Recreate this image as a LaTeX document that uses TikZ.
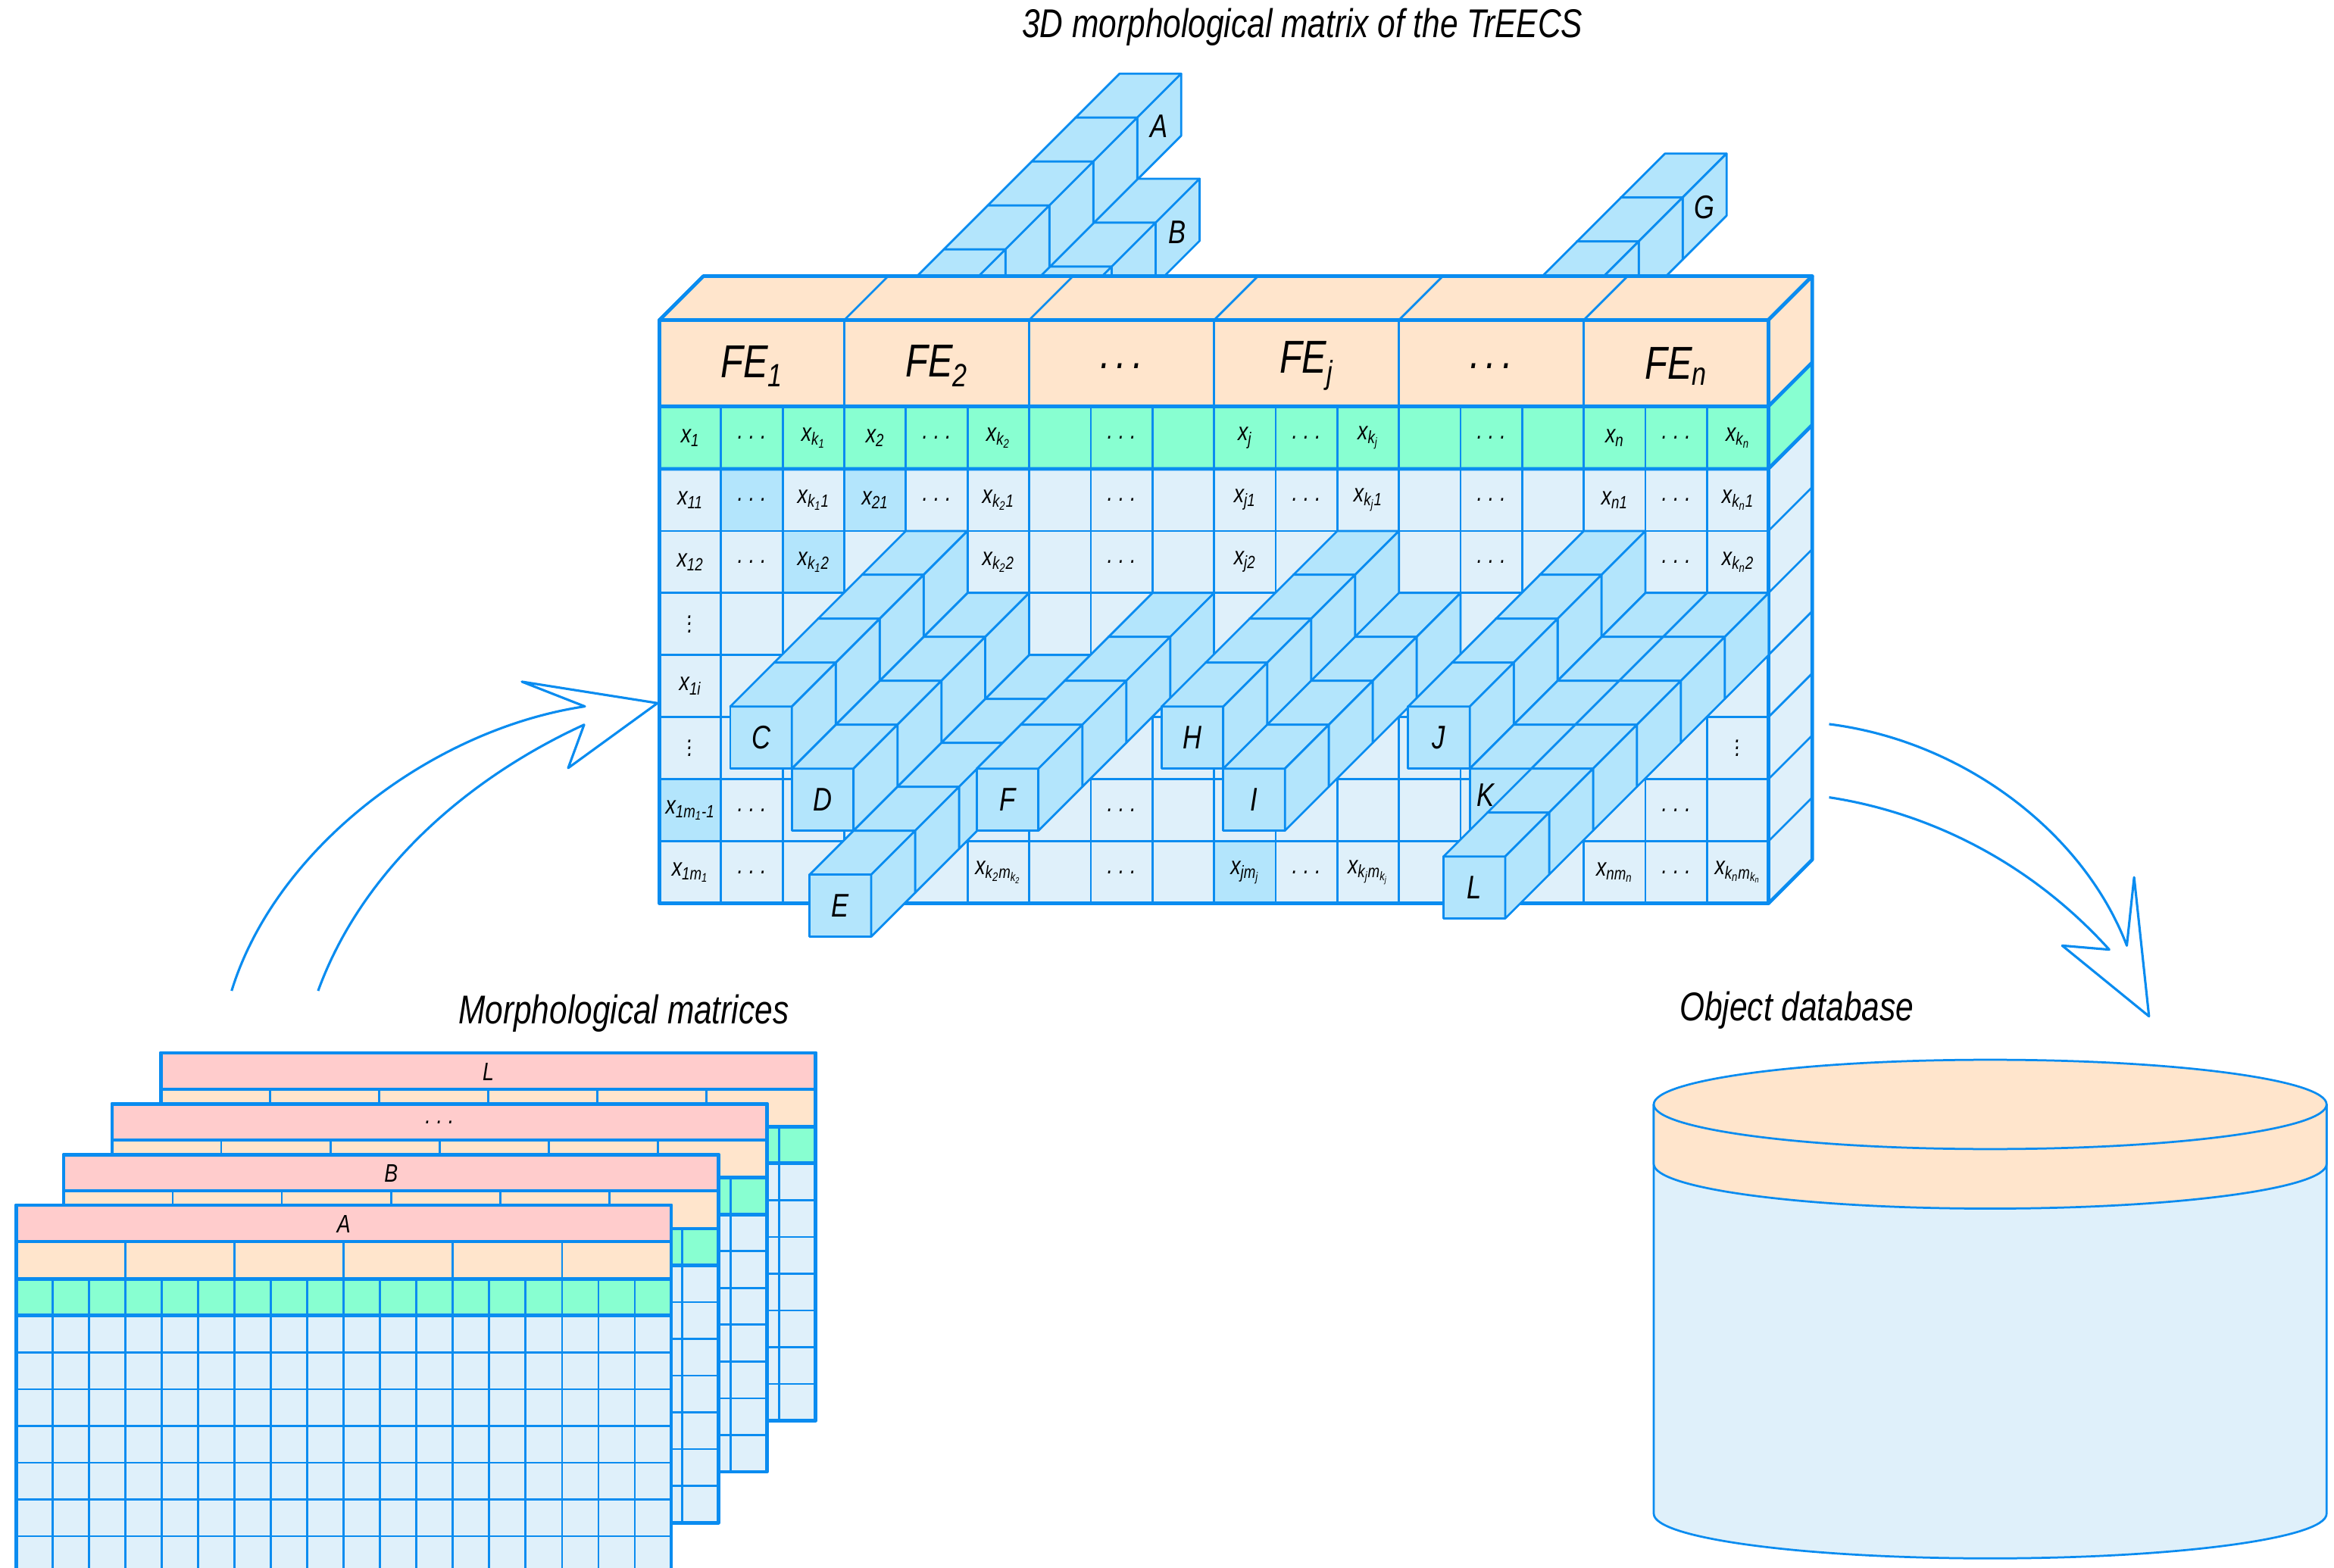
\documentclass[tikz,border=0pt]{standalone}
\usepackage{fontspec}
\setmainfont{Liberation Sans}[FakeStretch=0.8]
\definecolor{ln}{HTML}{0A8CF0}
\definecolor{peach}{HTML}{FFE5CC}
\definecolor{grn}{HTML}{88FFD1}
\definecolor{lb}{HTML}{DFF0FA}
\definecolor{mb}{HTML}{B3E5FC}
\definecolor{pinkc}{HTML}{FFCCCC}
\newcommand\xs[1]{\textit{x}\textsubscript{\itshape #1}}
\newcommand\dd{.\hspace{4pt}.\hspace{4pt}.}
\newcommand\vd{{\fontsize{17}{9}\selectfont\shortstack{.\\.\\.}}}
\newcommand\mycube[2]{%
  \filldraw[cb] (#1,#2) rectangle ++(41.4,41.7);
  \filldraw[cb] (#1,#2) -- ++(29.5,-29.5) -- ++(41.4,0) -- ++(-29.5,29.5) -- cycle;
  \filldraw[cb] ({#1+41.4},#2) -- ++(29.5,-29.5) -- ++(0,41.7) -- ++(-29.5,29.5) -- cycle;}
\begin{document}
\begin{tikzpicture}[x=1pt,y=-1pt,line join=round,
  cb/.style={fill=mb,draw=ln,line width=1.4},
  g/.style={draw=ln,line width=1.4},
  gb/.style={draw=ln,line width=2.4},
  ct/.style={font=\fontsize{17}{19}\selectfont\itshape,inner sep=0},
  lbl/.style={font=\fontsize{22}{24}\selectfont\itshape,inner sep=0},
  ttl/.style={font=\fontsize{27}{30}\selectfont\itshape,inner sep=0},
  arr/.style={draw=ln,line width=1.6}]
\useasboundingbox (0,0) rectangle (1568,1053);
% titles
\node[ttl] (title) at (875,18) {3D morphological matrix of the TrEECS};
\node[ttl] (tmm) at (419,681) {Morphological matrices};
\node[ttl] (tdb) at (1207,679) {Object database};
% top chains A, B
\foreach \k in {0,...,5}{
  \pgfmathsetmacro\px{722.6-29.5*\k}\pgfmathsetmacro\py{79+29.5*\k}
  \mycube{\px}{\py}
  \ifnum\k>0 \ifnum\k<5
    \pgfmathsetmacro\qx{735-29.5*(\k-1)}\pgfmathsetmacro\qy{149.6+29.5*(\k-1)}
    \mycube{\qx}{\qy}
  \fi\fi}
\foreach \m in {0,...,4}{
  \pgfmathsetmacro\px{1089-29.5*\m}\pgfmathsetmacro\py{132.7+29.5*\m}
  \mycube{\px}{\py}}
\node[lbl] (lA) at (778.7,85) {A};
\node[lbl] (lB) at (791,156) {B};
\node[lbl] (lG) at (1145,139) {G};
% main matrix: top face
\filldraw[fill=peach,gb] (443,215) -- (472.5,185.5) -- (1217.5,185.5) -- (1188,215) -- cycle;
\foreach \i in {1,...,5} \draw[g] ({443+124.2*\i},215) -- ++(29.5,-29.5);
% right face
\filldraw[fill=peach,g] (1188,215) -- (1217.5,185.5) -- (1217.5,243.5) -- (1188,273) -- cycle;
\filldraw[fill=grn,g] (1188,273) -- (1217.5,243.5) -- (1217.5,285.5) -- (1188,315) -- cycle;
\filldraw[fill=lb,g] (1188,315) -- (1217.5,285.5) -- (1217.5,577.5) -- (1188,607) -- cycle;
\foreach \r in {1,...,6} \draw[g] (1188,{315+41.7*\r}) -- ++(29.5,-29.5);
% front: FE row
\filldraw[fill=peach,g] (443,215) rectangle (1188,273);
\foreach \i in {1,...,5} \draw[g] ({443+124.2*\i},215) -- ({443+124.2*\i},273);
\foreach \i/\t in {0/{FE\textsubscript{1}},1/{FE\textsubscript{2}},2/{\dd},3/{FE\textsubscript{j}},4/{\dd},5/{FE\textsubscript{n}}}
  \node[font=\fontsize{31}{34}\selectfont\itshape,inner sep=0] (fe\i) at ({443+124.2*(\i+0.5)},246) {\t};
% green row
\filldraw[fill=grn,g] (443,273) rectangle (1188,315);
% data
\filldraw[fill=lb,g] (443,315) rectangle (1188,607);
\foreach \c/\r in {1/0,3/0,2/1,0/5,9/6}
  \fill[mb] ({443+41.4*\c},{315+41.7*\r}) rectangle ++(41.4,41.7);
\foreach \c in {1,...,17} \draw[g] ({443+41.4*\c},273) -- ({443+41.4*\c},607);
\foreach \r in {1,...,6} \draw[g] (443,{315+41.7*\r}) -- (1188,{315+41.7*\r});
\draw[gb] (443,215) rectangle (1188,607);
\draw[gb] (443,273) -- (1188,273) (443,315) -- (1188,315) (1188,215) -- (1217.5,185.5) -- (1217.5,577.5) -- (1188,607);
\draw[gb] (1188,273) -- ++(29.5,-29.5) (1188,315) -- ++(29.5,-29.5);
% cell texts
\foreach \c/\r/\t in {0/-1/{\xs{1}},1/-1/{\dd},2/-1/{\xs{k\textsubscript{1}}},3/-1/{\xs{2}},4/-1/{\dd},5/-1/{\xs{k\textsubscript{2}}},7/-1/{\dd},9/-1/{\xs{j}},10/-1/{\dd},11/-1/{\xs{k\textsubscript{j}}},13/-1/{\dd},15/-1/{\xs{n}},16/-1/{\dd},17/-1/{\xs{k\textsubscript{n}}},
 0/0/{\xs{11}},1/0/{\dd},2/0/{\xs{k\textsubscript{1}1}},3/0/{\xs{21}},4/0/{\dd},5/0/{\xs{k\textsubscript{2}1}},7/0/{\dd},9/0/{\xs{j1}},10/0/{\dd},11/0/{\xs{k\textsubscript{j}1}},13/0/{\dd},15/0/{\xs{n1}},16/0/{\dd},17/0/{\xs{k\textsubscript{n}1}},
 0/1/{\xs{12}},1/1/{\dd},2/1/{\xs{k\textsubscript{1}2}},5/1/{\xs{k\textsubscript{2}2}},7/1/{\dd},9/1/{\xs{j2}},13/1/{\dd},16/1/{\dd},17/1/{\xs{k\textsubscript{n}2}},
 0/2/{\vd},0/3/{\xs{1i}},0/4/{\vd},17/4/{\vd},
 0/5/{\xs{1m\textsubscript{1}-1}},1/5/{\dd},7/5/{\dd},16/5/{\dd},
 0/6/{\xs{1m\textsubscript{1}}},1/6/{\dd},5/6/{\xs{k\textsubscript{2}m\textsubscript{k\textsubscript{2}}}},7/6/{\dd},9/6/{\xs{jm\textsubscript{j}}},10/6/{\dd},11/6/{\xs{k\textsubscript{j}m\textsubscript{k\textsubscript{j}}}},15/6/{\xs{nm\textsubscript{n}}},16/6/{\dd},17/6/{\xs{k\textsubscript{n}m\textsubscript{k\textsubscript{n}}}}}
  \node[ct] (t\c-\r) at ({443+41.4*\c+20.7},{315+41.7*\r+20.85}) {\t};
% front chains
\foreach \k in {1,...,6}{
  \foreach \c/\r/\n/\lab/\lx/\ly in {4/1/4/C/0/0,5/2/4/D/0/0,6/3/5/E/0/0,8/2/4/F/0/0,11/1/4/H/0/0,12/2/4/I/0/0,15/1/4/J/0/0,16/2/4/K/-10/-3,17/2/6/L/0/0}{
    \ifnum\k>\n\relax\else
      \pgfmathsetmacro\px{443+41.4*\c-29.5*\k}\pgfmathsetmacro\py{315+41.7*\r+29.5*\k}
      \mycube{\px}{\py}
      \ifnum\k=\n\relax
        \node[lbl] (l\lab) at ({\px+20.7+\lx},{\py+20.85+\ly}) {\lab};
      \fi
    \fi}}
% morphological matrices
\foreach \x/\y/\t/\nm in {108/707.4/L/mL,75.3/741.7/{\dd}/mD,42.7/775.9/B/mB,10.9/809.7/A/mA}{
  \filldraw[fill=pinkc,gb] (\x,\y) rectangle ++(440,24.5);
  \node[font=\fontsize{17}{19}\selectfont\itshape,inner sep=0] (\nm) at ({\x+220},{\y+12.5}) {\t};
  \filldraw[fill=peach,g] (\x,{\y+24.5}) rectangle ++(440,25);
  \foreach \i in {1,...,5} \draw[g] ({\x+73.333*\i},{\y+24.5}) -- ++(0,25);
  \filldraw[fill=grn,g] (\x,{\y+49.5}) rectangle ++(440,24.7);
  \filldraw[fill=lb,g] (\x,{\y+74.2}) rectangle ++(440,172.9);
  \foreach \i in {1,...,17} \draw[g] ({\x+24.444*\i},{\y+49.5}) -- ++(0,197.6);
  \foreach \r in {1,...,6} \draw[g] (\x,{\y+74.2+24.7*\r}) -- ++(440,0);
  \draw[gb] (\x,\y) rectangle ++(440,247.1);
  \draw[gb] (\x,{\y+49.5}) -- ++(440,0) (\x,{\y+74.2}) -- ++(440,0);
}
% arrows
\draw[arr] (155.6,665.7) .. controls (185,570) and (290,490) .. (392.9,474.6) -- (350.6,458) -- (441.7,472.4) -- (381.7,516) -- (392.4,486.9) .. controls (320,520) and (245,580) .. (213.7,665.7);
\draw[arr] (1228.8,486.5) .. controls (1320,498) and (1400,560) .. (1428.8,635.3) -- (1433.7,589.4) -- (1443.7,682.8) -- (1385.4,635.3) -- (1417,638) .. controls (1360,575) and (1290,545) .. (1228.8,535.7);
% database
\filldraw[fill=lb,g] (1111,742) -- (1111,1017) arc[start angle=180,end angle=360,x radius=226,y radius=-30] -- (1563,742) -- cycle;
\filldraw[fill=peach,g] (1111,742) -- (1111,782) arc[start angle=180,end angle=360,x radius=226,y radius=-30] -- (1563,742) -- cycle;
\filldraw[fill=peach,g] (1337,742) ellipse[x radius=226,y radius=30];
\end{tikzpicture}
\end{document}
